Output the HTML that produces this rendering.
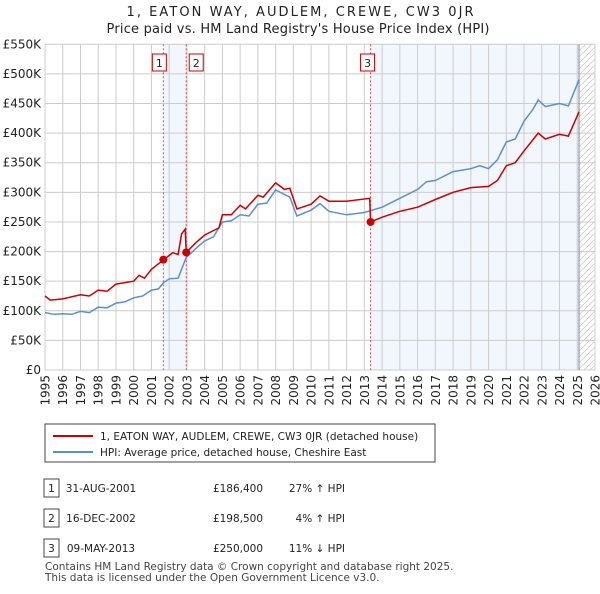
<!DOCTYPE html>
<html><head><meta charset="utf-8">
<style>
body{margin:0;background:#fff;font-family:"DejaVu Sans",sans-serif;}
svg text{font-family:"DejaVu Sans","Liberation Sans",sans-serif;}
</style></head>
<body>
<svg id="c" width="600" height="590" xmlns="http://www.w3.org/2000/svg"></svg>
<script>
const yearTicks=[1995,1996,1997,1998,1999,2000,2001,2002,2003,2004,2005,2006,2007,2008,2009,2010,2011,2012,2013,2014,2015,2016,2017,2018,2019,2020,2021,2022,2023,2024,2025,2026];
const priceTicks=[0,50,100,150,200,250,300,350,400,450,500,550];
const priceLabels=["£0","£50K","£100K","£150K","£200K","£250K","£300K","£350K","£400K","£450K","£500K","£550K"];
const hpiT=[1995,1995.5,1996,1996.5,1997,1997.5,1998,1998.5,1999,1999.5,2000,2000.5,2001,2001.4,2001.67,2002,2002.5,2002.96,2003.5,2004,2004.5,2005,2005.5,2006,2006.5,2007,2007.5,2008,2008.8,2009.2,2010,2010.5,2011,2012,2013,2014,2015,2016,2016.5,2017,2018,2019,2019.5,2020,2020.5,2021,2021.5,2022,2022.5,2022.8,2023.2,2024,2024.5,2025.1];
const hpiV=[97,94,95,94,99,97,106,105,113,115,122,125,135,137,147,154,155,190,205,218,225,250,252,262,260,280,282,304,292,260,270,281,268,262,266,275,290,305,318,320,335,340,345,340,355,385,390,420,440,456,445,450,446,490];
const ppT=[1995,1995.3,1996,1997,1997.5,1998,1998.5,1999,2000,2000.3,2000.6,2001,2001.67,2002.2,2002.5,2002.7,2002.9,2002.96,2003.5,2004,2004.8,2005,2005.5,2006,2006.3,2007,2007.3,2008,2008.5,2008.8,2009.2,2010,2010.5,2011,2012,2013.3,2013.35,2014,2015,2016,2017,2018,2019,2020,2020.5,2021,2021.5,2022,2022.8,2023.2,2024,2024.5,2025.1];
const ppV=[125,118,120,127,125,135,133,145,150,160,155,170,186,198,195,230,238,198.5,215,228,240,262,262,278,272,295,292,316,305,307,272,280,294,285,285,290,250,258,268,275,288,300,308,310,320,345,350,370,400,390,398,395,436];
const saleT=[2001.67,2002.96,2013.35];
const saleV=[186.4,198.5,250];
const saleLabels=["1","2","3"];
const X0=45,X1=595,Y0=370,Y1=44.3;
const xs=t=>X0+(t-1995)/(2026-1995)*(X1-X0);
const ys=v=>Y0-v/550*(Y0-Y1);
const svg=document.getElementById('c');
const NS="http://www.w3.org/2000/svg";
function mk(tag,at,parent){const e=document.createElementNS(NS,tag);for(const k in at)e.setAttribute(k,at[k]);(parent||svg).appendChild(e);return e;}
let t=mk('text',{x:300,y:16,'text-anchor':'middle','font-size':13,fill:'#222',textLength:347,lengthAdjust:'spacing'});t.textContent="1, EATON WAY, AUDLEM, CREWE, CW3 0JR";

t=mk('text',{x:298,y:33,'text-anchor':'middle','font-size':13,fill:'#222',textLength:383,lengthAdjust:'spacing'});t.textContent="Price paid vs. HM Land Registry's House Price Index (HPI)";

let r=mk('rect',{x:xs(saleT[0]),y:Y1,width:xs(saleT[1])-xs(saleT[0]),height:Y0-Y1,fill:'#f2f6fd'});

r=mk('rect',{x:xs(saleT[2]),y:Y1,width:xs(2025.1)-xs(saleT[2]),height:Y0-Y1,fill:'#f2f6fd'});

const defs=mk('defs',{});
const pat=mk('pattern',{id:'h',width:6,height:6,patternUnits:'userSpaceOnUse'},defs);
mk('path',{d:'M0,6 L6,0',stroke:'#ccc','stroke-width':0.8},pat);
r=mk('rect',{x:xs(2025.1),y:Y1,width:X1-xs(2025.1),height:Y0-Y1,fill:'url(#h)'});

yearTicks.forEach(y=>{const l=mk('line',{x1:xs(y),x2:xs(y),y1:Y1,y2:Y0,stroke:'#ccc'});
 const tx=mk('text',{transform:`translate(${xs(y)+4.5},${Y0+5}) rotate(-90)`,'text-anchor':'end','font-size':12,fill:'#222'});tx.textContent=y;
 });
priceTicks.forEach((p,i)=>{const l=mk('line',{x1:X0,x2:X1,y1:ys(p),y2:ys(p),stroke:'#ccc'});
 const tx=mk('text',{x:X0-4,y:ys(p)+4,'text-anchor':'end','font-size':12,fill:'#222'});tx.textContent=priceLabels[i];
 });
let l=mk('line',{x1:xs(2025.1),x2:xs(2025.1),y1:Y1,y2:Y0,stroke:'#888'});
saleT.forEach((s,i)=>{const d=mk('line',{x1:xs(s),x2:xs(s),y1:Y1,y2:Y0,stroke:'#e05050','stroke-dasharray':'2,2'});
 const bx=xs(s)-(i==1?-3:(i==0?11:10));
 const b=mk('rect',{x:bx,y:54,width:14,height:17,fill:'#fff',stroke:'#c00'});
 
 const tx=mk('text',{x:bx+7,y:67,'text-anchor':'middle','font-size':11,fill:'#222'});tx.textContent=saleLabels[i];
 });
function line(T,V,col,name){const p=mk('path',{d:T.map((x,i)=>(i?'L':'M')+xs(x).toFixed(1)+','+ys(V[i]).toFixed(1)).join(''),fill:'none',stroke:col,'stroke-width':1.5});
 }
line(hpiT,hpiV,'#5b8fd0','hpi-line');
line(ppT,ppV,'#cc0000','price-paid-line');
saleT.forEach((s,i)=>{const c=mk('circle',{cx:xs(s),cy:ys(saleV[i]),r:4,fill:'#cc0000'});});
const lg=mk('g',{});
mk('rect',{x:45,y:424,width:390,height:38,fill:'#fff',stroke:'#444'},lg);
mk('line',{x1:53,x2:93,y1:436,y2:436,stroke:'#cc0000','stroke-width':2},lg);
mk('line',{x1:53,x2:93,y1:452,y2:452,stroke:'#5b8fd0','stroke-width':2},lg);
t=mk('text',{x:100,y:440,'font-size':10.5,fill:'#222'},lg);t.textContent="1, EATON WAY, AUDLEM, CREWE, CW3 0JR (detached house)";

t=mk('text',{x:100,y:456,'font-size':10.5,fill:'#222'},lg);t.textContent="HPI: Average price, detached house, Cheshire East";

const rows=[["31-AUG-2001","£186,400","27% ↑ HPI"],["16-DEC-2002","£198,500","4% ↑ HPI"],["09-MAY-2013","£250,000","11% ↓ HPI"]];
rows.forEach((rw,i)=>{const y=488+i*30;
 const b=mk('rect',{x:44,y:y-9,width:15,height:18,fill:'#fff',stroke:'#444'});
 let tx=mk('text',{x:51.5,y:y+4,'text-anchor':'middle','font-size':10.5,fill:'#222'});tx.textContent=String(i+1);
 
 tx=mk('text',{x:101,y:y+4,'text-anchor':'middle','font-size':10.5,fill:'#222'});tx.textContent=rw[0];
 
 tx=mk('text',{x:238,y:y+4,'text-anchor':'middle','font-size':10.5,fill:'#222'});tx.textContent=rw[1];
 
 tx=mk('text',{x:345,y:y+4,'text-anchor':'end','font-size':10.5,fill:'#222'});tx.textContent=rw[2];
 });
t=mk('text',{x:45,y:570,'font-size':10.5,fill:'#444'});t.textContent="Contains HM Land Registry data © Crown copyright and database right 2025.";

t=mk('text',{x:45,y:581,'font-size':10.5,fill:'#444'});t.textContent="This data is licensed under the Open Government Licence v3.0.";

</script>
</body></html>
